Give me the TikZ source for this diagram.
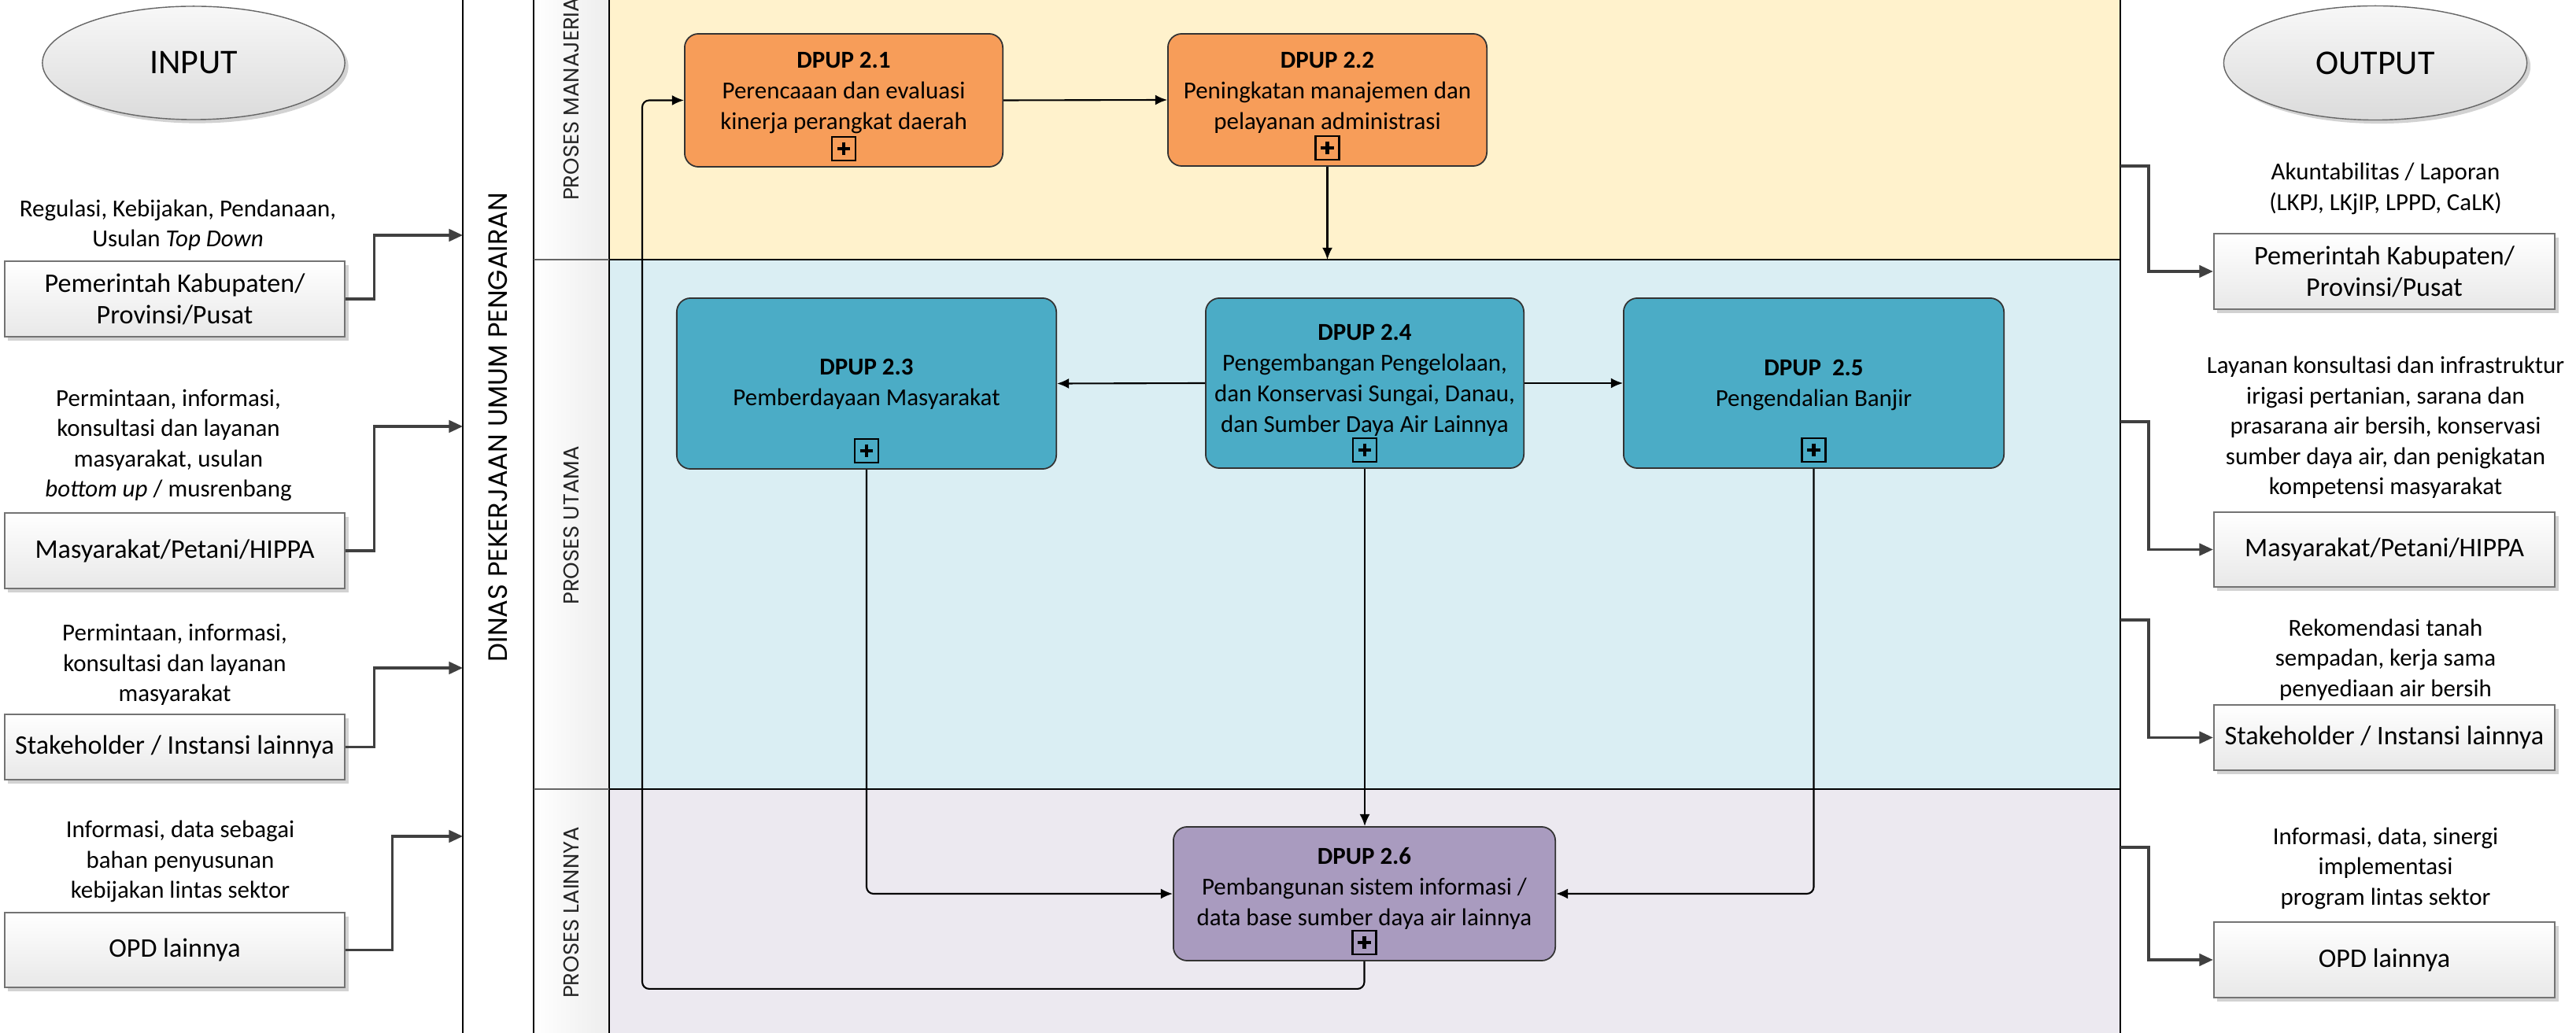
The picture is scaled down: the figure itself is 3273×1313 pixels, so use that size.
\documentclass[tikz,border=0pt]{standalone}
\usepackage{fontspec}
\setmainfont{Carlito}
\newfontfamily\lanefont{Poppins}
\usetikzlibrary{arrows.meta,shadows,calc,shapes.geometric}
\definecolor{laneM}{HTML}{FFF2CC}
\definecolor{laneU}{HTML}{DAEEF3}
\definecolor{laneL}{HTML}{ECE9F0}
\definecolor{orangeP}{HTML}{F79D59}
\definecolor{tealP}{HTML}{4BACC6}
\definecolor{purpleP}{HTML}{A99BBF}
\begin{document}
\begin{tikzpicture}[x=0.01cm,y=-0.01cm,
  iobox/.style={draw=black!55, line width=0.6pt, top color=white, bottom color=black!9,
    minimum width=4.32cm, align=center, inner sep=0pt,
    font=\fontsize{9.7pt}{11.4pt}\selectfont,
    drop shadow={shadow xshift=1.3pt, shadow yshift=-1.3pt, opacity=0.35, fill=black!50}},
  iolabel/.style={align=center, font=\fontsize{8.8pt}{10.95pt}\selectfont, inner sep=0pt},
  ioline/.style={draw=black!75, line width=0.9pt, -{Triangle[length=5pt,width=4.4pt]}},
  ioell/.style={ellipse, draw=black!60, line width=0.4pt, top color=black!3, bottom color=black!14,
    inner sep=0pt, font=\fontsize{12.5pt}{14pt}\selectfont,
    drop shadow={shadow xshift=1.3pt, shadow yshift=-1.3pt, opacity=0.35, fill=black!50}},
  proc/.style={draw=black!80, line width=0.5pt, rounded corners=5pt, inner sep=0pt},
  proctext/.style={align=center, font=\fontsize{8.8pt}{11.1pt}\selectfont, inner sep=0pt},
  flow/.style={draw=black, line width=0.6pt, -{Latex[length=4.3pt,width=3.7pt]}, rounded corners=2.5pt},
  plusbox/.style={draw=black, line width=0.8pt, minimum width=0.3cm, minimum height=0.3cm, inner sep=0pt,
    path picture={
      \draw[line width=1.2pt] ($(path picture bounding box.north)!0.22!(path picture bounding box.south)$) -- ($(path picture bounding box.north)!0.78!(path picture bounding box.south)$);
      \draw[line width=1.2pt] ($(path picture bounding box.west)!0.22!(path picture bounding box.east)$) -- ($(path picture bounding box.west)!0.78!(path picture bounding box.east)$);
    }},
  lanelabel/.style={rotate=90, font=\lanefont\fontsize{7.8pt}{9pt}\selectfont, inner sep=0pt, text=black!85},
  poollabel/.style={rotate=90, font=\lanefont\fontsize{9.6pt}{11pt}\selectfont, inner sep=0pt},
]
\useasboundingbox (0,0) rectangle (3273,1313);
\clip (0,0) rectangle (3273,1313);
\fill[white] (0,0) rectangle (3273,1313);

% lanes
\fill[laneM] (774,0) rectangle (2694,330);
\fill[laneU] (774,330) rectangle (2694,1003);
\fill[laneL] (774,1003) rectangle (2694,1313);
\shade[left color=white, right color=black!7] (678,0) rectangle (774,1313);
\draw[line width=0.6pt] (588,0) -- (588,1313);
\draw[line width=0.6pt] (678,0) -- (678,1313);
\draw[line width=0.6pt] (774,0) -- (774,1313);
\draw[line width=0.6pt] (2694,0) -- (2694,1313);
\draw[line width=0.8pt, black!60] (678,330) -- (774,330);
\draw[line width=0.8pt, black!60] (678,1003) -- (774,1003);
\draw[line width=0.8pt] (774,330) -- (2694,330);
\draw[line width=0.8pt] (774,1003) -- (2694,1003);

\node[poollabel] (pool) at (633,543) {DINAS PEKERJAAN UMUM PENGAIRAN};
\node[lanelabel] (lm) at (726,120) {PROSES MANAJERIAL};
\node[lanelabel] (lu) at (726,668) {PROSES UTAMA};
\node[lanelabel] (ll) at (726,1160) {PROSES LAINNYA};

% input side
\node[ioell, minimum width=3.84cm, minimum height=1.44cm] (inE) at (246,80) {INPUT};
\node[iolabel] (l1) at (226,286.5) {Regulasi, Kebijakan, Pendanaan,\\Usulan \textit{Top Down}};
\node[iolabel] (l2) at (214,566) {Permintaan, informasi,\\konsultasi dan layanan\\masyarakat, usulan\\\textit{bottom up} / musrenbang};
\node[iolabel] (l3) at (222,845) {Permintaan, informasi,\\konsultasi dan layanan\\masyarakat};
\node[iolabel] (l4) at (229,1095) {Informasi, data sebagai\\bahan penyusunan\\kebijakan lintas sektor};
\node[iobox, minimum height=0.96cm] (lb1) at (222,380) {Pemerintah Kabupaten/\\Provinsi/Pusat};
\node[iobox, minimum height=0.96cm] (lb2) at (222,700) {Masyarakat/Petani/HIPPA};
\node[iobox, minimum height=0.83cm] (lb3) at (222,949.5) {Stakeholder / Instansi lainnya};
\node[iobox, minimum height=0.95cm] (lb4) at (222,1207.5) {OPD lainnya};
\coordinate (i1) at (588,299);
\coordinate (i2) at (588,542);
\coordinate (i3) at (588,849);
\coordinate (i4) at (588,1063);
\draw[ioline] (lb1.east) -- ++(36,0) |- (i1);
\draw[ioline] (lb2.east) -- ++(36,0) |- (i2);
\draw[ioline] (lb3.east) -- ++(36,0) |- (i3);
\draw[ioline] (lb4.east) -- ++(59,0) |- (i4);

% output side
\node[ioell, minimum width=3.85cm, minimum height=1.45cm] (outE) at (3018,80) {OUTPUT};
\node[iolabel] (r1t) at (3031,240) {Akuntabilitas / Laporan\\(LKPJ, LKjIP, LPPD, CaLK)};
\node[iolabel] (r2t) at (3031,543.5) {Layanan konsultasi dan infrastruktur\\irigasi pertanian, sarana dan\\prasarana air bersih, konservasi\\sumber daya air, dan penigkatan\\kompetensi masyarakat};
\node[iolabel] (r3t) at (3031,838.5) {Rekomendasi tanah\\sempadan, kerja sama\\penyediaan air bersih};
\node[iolabel] (r4t) at (3031,1103.5) {Informasi, data, sinergi\\implementasi\\program lintas sektor};
\node[iobox, minimum width=4.33cm, minimum height=0.96cm] (rb1) at (3029.5,345) {Pemerintah Kabupaten/\\Provinsi/Pusat};
\node[iobox, minimum width=4.33cm, minimum height=0.95cm] (rb2) at (3029.5,698.5) {Masyarakat/Petani/HIPPA};
\node[iobox, minimum width=4.33cm, minimum height=0.83cm] (rb3) at (3029.5,937.5) {Stakeholder / Instansi lainnya};
\node[iobox, minimum width=4.33cm, minimum height=0.96cm] (rb4) at (3029.5,1220) {OPD lainnya};
\coordinate (o1) at (2694,211);
\coordinate (o2) at (2694,536);
\coordinate (o3) at (2694,788);
\coordinate (o4) at (2694,1077);
\draw[ioline] (o1) -- ++(36,0) |- (rb1.west);
\draw[ioline] (o2) -- ++(36,0) |- (rb2.west);
\draw[ioline] (o3) -- ++(36,0) |- (rb3.west);
\draw[ioline] (o4) -- ++(36,0) |- (rb4.west);

% process boxes
\node[proc, fill=orangeP, minimum width=4.04cm, minimum height=1.69cm] (p21) at (1072,127.5) {};
\node[proctext] (p21t) at (1072,118) {\textbf{DPUP 2.1}\\Perencaaan dan evaluasi\\kinerja perangkat daerah};
\node[plusbox] (p21m) at ($(p21.south)+(0,-24)$) {};

\node[proc, fill=orangeP, minimum width=4.05cm, minimum height=1.68cm] (p22) at (1686.5,127) {};
\node[proctext] (p22t) at (1686.5,118) {\textbf{DPUP 2.2}\\Peningkatan manajemen dan\\pelayanan administrasi};
\node[plusbox] (p22m) at ($(p22.south)+(0,-24)$) {};

\node[proc, fill=tealP, minimum width=4.82cm, minimum height=2.17cm] (p23) at (1101,487.5) {};
\node[proctext] (p23t) at (1101,488.5) {\textbf{DPUP 2.3}\\Pemberdayaan Masyarakat};
\node[plusbox] (p23m) at ($(p23.south)+(0,-24)$) {};

\node[proc, fill=tealP, minimum width=4.04cm, minimum height=2.16cm] (p24) at (1734,487) {};
\node[proctext] (p24t) at (1734,483) {\textbf{DPUP 2.4}\\Pengembangan Pengelolaan,\\dan Konservasi Sungai, Danau,\\dan Sumber Daya Air Lainnya};
\node[plusbox] (p24m) at ($(p24.south)+(0,-24)$) {};

\node[proc, fill=tealP, minimum width=4.83cm, minimum height=2.16cm] (p25) at (2304.5,487) {};
\node[proctext] (p25t) at (2304.5,489.5) {\textbf{DPUP~ 2.5}\\Pengendalian Banjir};
\node[plusbox] (p25m) at ($(p25.south)+(0,-24)$) {};

\node[proc, fill=purpleP, minimum width=4.85cm, minimum height=1.70cm] (p26) at (1733.5,1136) {};
\node[proctext] (p26t) at (1733.5,1129) {\textbf{DPUP 2.6}\\Pembangunan sistem informasi /\\data base sumber daya air lainnya};
\node[plusbox] (p26m) at ($(p26.south)+(0,-24)$) {};

% flows
\coordinate (d1) at (1686.5,330);
\draw[flow] (p21.east) -- (p22.west);
\draw[flow] (p22.south) -- (d1);
\draw[flow] (p24.west) -- (p23.east);
\draw[flow] (p24.east) -- (p25.west);
\draw[flow] (p24.south) -- (p24.south |- p26.north);
\draw[flow] (p23.south) |- (p26.west);
\draw[flow] (p25.south) |- (p26.east);
\draw[flow] (p26.south) -- ($(p26.south)+(0,35)$) -| (816,127.5) -- (p21.west);
\end{tikzpicture}
\end{document}
